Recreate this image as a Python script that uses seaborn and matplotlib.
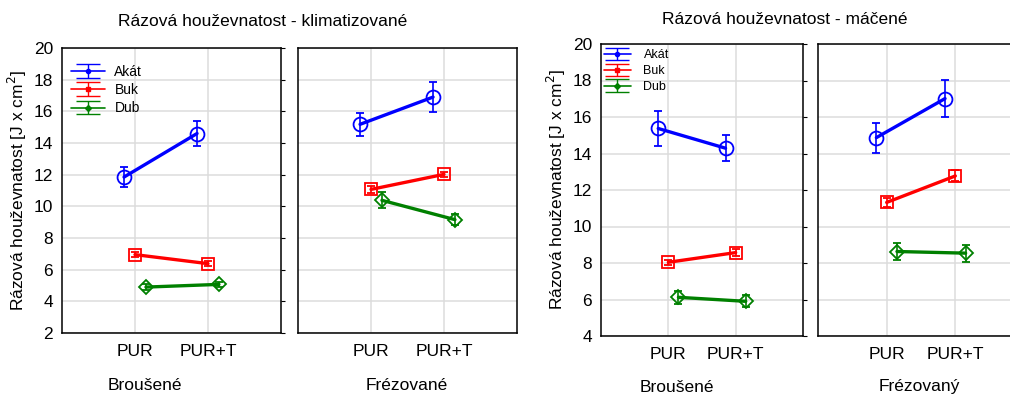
import numpy as np
import pandas as pd
import matplotlib
matplotlib.use('Agg')
import matplotlib.pyplot as plt
import seaborn as sns

# ---- data ----
species = ['Akát', 'Buk', 'Dub']
treatments = ['PUR', 'PUR+T']
colors = {'Akát': '#0000ff', 'Buk': '#ff0000', 'Dub': '#008000'}
markers = {'Akát': 'o', 'Buk': 's', 'Dub': 'D'}
msizes = {'Akát': 10, 'Buk': 8.5, 'Dub': 7.5}
offsets = {'Akát': -0.15, 'Buk': 0.0, 'Dub': 0.15}

# klimatizované
klim_brous_mean = {'Akát': [11.85, 14.6], 'Buk': [6.95, 6.38], 'Dub': [4.9, 5.07]}
klim_brous_err = {'Akát': [0.65, 0.78], 'Buk': [0.15, 0.15], 'Dub': [0.18, 0.15]}
klim_frez_mean = {'Akát': [15.18, 16.9], 'Buk': [11.07, 12.02], 'Dub': [10.38, 9.16]}
klim_frez_err = {'Akát': [0.72, 0.95], 'Buk': [0.22, 0.15], 'Dub': [0.5, 0.35]}

# máčené
mac_brous_mean = {'Akát': [15.37, 14.29], 'Buk': [8.04, 8.57], 'Dub': [6.12, 5.9]}
mac_brous_err = {'Akát': [0.95, 0.72], 'Buk': [0.15, 0.2], 'Dub': [0.35, 0.33]}
mac_frez_mean = {'Akát': [14.87, 17.01], 'Buk': [11.32, 12.77], 'Dub': [8.63, 8.54]}
mac_frez_err = {'Akát': [0.82, 1.0], 'Buk': [0.25, 0.3], 'Dub': [0.48, 0.46]}

FS = 12.5


def to_frame(means, errs):
    rows = []
    for sp in species:
        for i, tr in enumerate(treatments):
            rows.append({'species': sp, 'treatment': tr,
                         'x': i + offsets[sp],
                         'value': means[sp][i], 'err': errs[sp][i]})
    return pd.DataFrame(rows)


def draw_panel(ax, df, ylim, yticks, left_labels=True):
    sns.lineplot(data=df, x='x', y='value', hue='species', palette=colors,
                 linewidth=2.4, legend=False, ax=ax, zorder=3)
    for sp in species:
        d = df[df['species'] == sp]
        ax.errorbar(d['x'], d['value'], yerr=d['err'], fmt=markers[sp],
                    ms=msizes[sp], mfc='none', mec=colors[sp], mew=1.3,
                    ecolor=colors[sp], elinewidth=1.2, capsize=3.2, capthick=1.2,
                    color=colors[sp], zorder=4)
    ax.set_xlim(-1, 2)
    ax.set_ylim(*ylim)
    ax.set_yticks(yticks)
    ax.set_xticks([0, 1])
    ax.set_xticklabels(treatments)
    ax.grid(True, color='#dcdcdc', linewidth=1.1)
    ax.set_axisbelow(True)
    ax.set_xlabel('')
    ax.set_ylabel('')
    for s in ax.spines.values():
        s.set_color('black')
        s.set_linewidth(1.1)
    ax.tick_params(axis='x', length=0, labelsize=FS, pad=8, colors='black')
    if left_labels:
        ax.tick_params(axis='y', direction='out', length=3, labelsize=FS,
                       right=True, labelright=False, colors='black')
    else:
        ax.tick_params(axis='y', direction='in', length=3, labelleft=False, colors='black')


def add_legend(ax, fontsize, pad, hlen, tpad):
    handles = []
    for sp in species:
        h = ax.errorbar([np.nan], [np.nan], yerr=[1], fmt=markers[sp], ms=3,
                        color=colors[sp], mfc=colors[sp], elinewidth=1,
                        capsize=8.5, capthick=1, linestyle='-', linewidth=1.2,
                        label=sp)
        handles.append(h)
    ax.legend(handles=handles, loc='upper left', frameon=False,
              fontsize=fontsize, handlelength=hlen, handletextpad=tpad,
              labelspacing=0.3, borderaxespad=0, bbox_to_anchor=pad,
              borderpad=0.2)


sns.set_style('white')
plt.rcParams['font.family'] = ['Liberation Sans', 'DejaVu Sans']
plt.rcParams['text.color'] = 'black'
plt.rcParams['axes.labelcolor'] = 'black'

fig = plt.figure(figsize=(10.1, 3.94), dpi=100)
W, H = 1010, 394


def axes_px(x0, x1, ytop, ybot):
    return fig.add_axes([x0 / W, (H - ybot) / H, (x1 - x0) / W, (ybot - ytop) / H])


# left chart
ax1 = axes_px(62, 281, 48, 333)
ax2 = axes_px(298, 517, 48, 333)
draw_panel(ax1, to_frame(klim_brous_mean, klim_brous_err), (2, 20), range(2, 21, 2))
draw_panel(ax2, to_frame(klim_frez_mean, klim_frez_err), (2, 20), range(2, 21, 2), left_labels=False)
add_legend(ax1, 10, (0.03, 0.95), 2.4, 0.7)
ax1.set_ylabel('Rázová houževnatost [J x cm$^2$]', fontsize=FS, labelpad=3)

# right chart
ax3 = axes_px(601, 803, 44, 336)
ax4 = axes_px(818, 1024, 44, 336)
draw_panel(ax3, to_frame(mac_brous_mean, mac_brous_err), (4, 20), range(4, 21, 2))
draw_panel(ax4, to_frame(mac_frez_mean, mac_frez_err), (4, 20), range(4, 21, 2), left_labels=False)
ax4.spines['right'].set_visible(False)
add_legend(ax3, 9, (0.0, 0.99), 2.2, 1.0)
ax3.set_ylabel('Rázová houževnatost [J x cm$^2$]', fontsize=FS, labelpad=3)

fig.text(263 / W, 1 - 22 / H, 'Rázová houževnatost - klimatizované', ha='center', va='center', fontsize=FS)
fig.text(785 / W, 1 - 20 / H, 'Rázová houževnatost - máčené', ha='center', va='center', fontsize=FS)
fig.text(145 / W, 1 - 385 / H, 'Broušené', ha='center', va='center', fontsize=FS)
fig.text(407 / W, 1 - 385 / H, 'Frézované', ha='center', va='center', fontsize=FS)
fig.text(677 / W, 1 - 387 / H, 'Broušené', ha='center', va='center', fontsize=FS)
fig.text(919 / W, 1 - 387 / H, 'Frézovaný', ha='center', va='center', fontsize=FS)

fig.savefig('out.png', dpi=100)
